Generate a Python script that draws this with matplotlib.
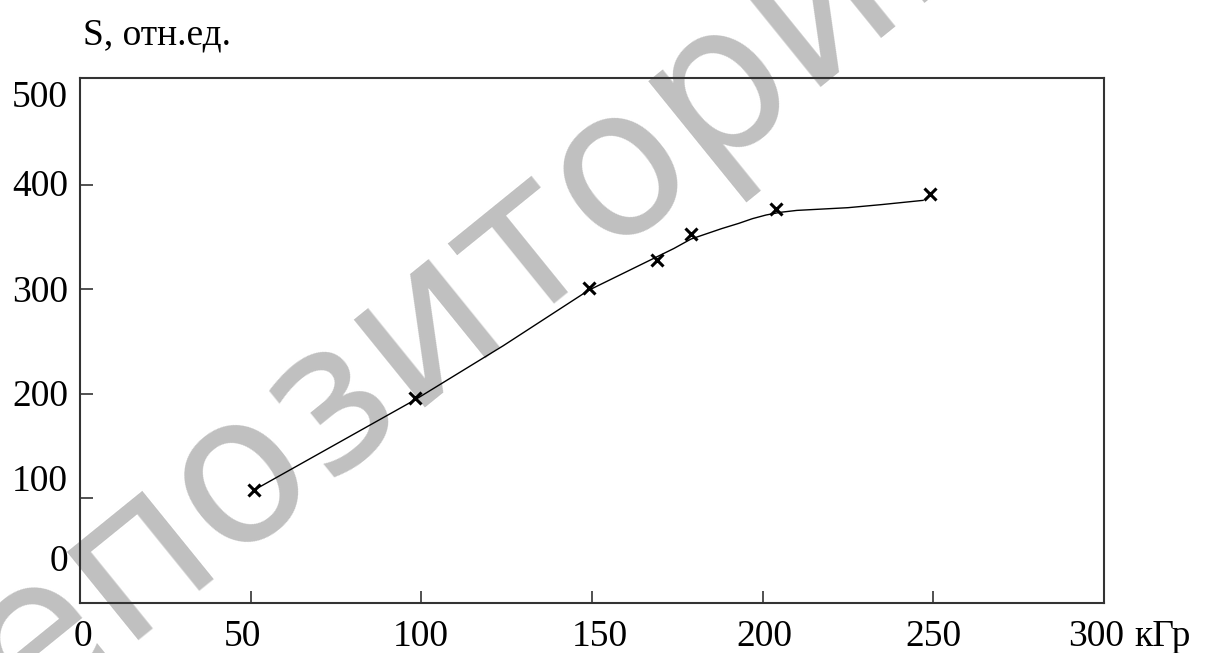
import matplotlib
matplotlib.use('agg')
import matplotlib.pyplot as plt

# точки измерений
dose = [51, 98, 149, 169, 179, 204, 249]
signal = [108, 196, 301, 328, 353, 377, 391]

# сглаженная кривая
curve_x = [51, 98, 124, 149, 164, 174, 179, 188, 193, 197, 201, 205, 210, 225, 235, 247]
curve_y = [108, 194, 246, 299, 323, 339, 348, 358, 363, 367.5, 371, 373.5, 375.4, 378, 381, 385]

xticks = [0, 50, 100, 150, 200, 250, 300]
yticks = [0, 100, 200, 300, 400, 500]
# сдвиги подписей в пикселях (как на оригинале)
xtick_dx = [3, -8, -1, 8, 2, 0, -8]
ytick_dy = [32, 7, -12, -13, -11, -27]

plt.rcParams['font.family'] = ['Liberation Serif', 'DejaVu Serif']

fig = plt.figure(figsize=(12.1, 6.53), dpi=100)
ax = fig.add_axes([80 / 1210, 50 / 653, 1024 / 1210, 525 / 653])
ax.set_facecolor('none')

# водяной знак
fig.text(432 / 1210, 1 - 312 / 653, 'Репозиторий', fontsize=148, color='#c0c0c0',
         rotation=39, ha='center', va='center', family='DejaVu Sans', zorder=-1)

ax.plot(curve_x, curve_y, color='black', lw=1.0)
ax.plot(dose, signal, ls='none', marker='x', ms=8, mew=2.2, color='black')

ax.set_xlim(0, 300)
ax.set_ylim(0, 502)
for s in ax.spines.values():
    s.set_linewidth(1.5)
    s.set_color('#333333')

# риски только внутри рамки
ax.set_xticks(xticks[1:-1])
ax.set_yticks(yticks[1:-1])
ax.tick_params(direction='in', length=9, width=1.2, color='#333333',
               labelbottom=False, labelleft=False)

for v, dx in zip(xticks, xtick_dx):
    ax.annotate(str(v), xy=(v, 0), xycoords=('data', 'axes fraction'),
                xytext=(dx, -43), textcoords='offset pixels',
                ha='center', va='baseline', fontsize=27)
for v, dy in zip(yticks, ytick_dy):
    ax.annotate(str(v), xy=(0, v), xycoords=('axes fraction', 'data'),
                xytext=(-12, dy), textcoords='offset pixels',
                ha='right', va='baseline', fontsize=27)

ax.annotate('кГр', xy=(1, 0), xycoords='axes fraction', xytext=(30, -43),
            textcoords='offset pixels', ha='left', va='baseline', fontsize=27)
fig.text(83 / 1210, 1 - 44 / 653, 'S, отн.ед.', ha='left', va='baseline', fontsize=27)

plt.savefig('out.png', dpi=100)
plt.close()
